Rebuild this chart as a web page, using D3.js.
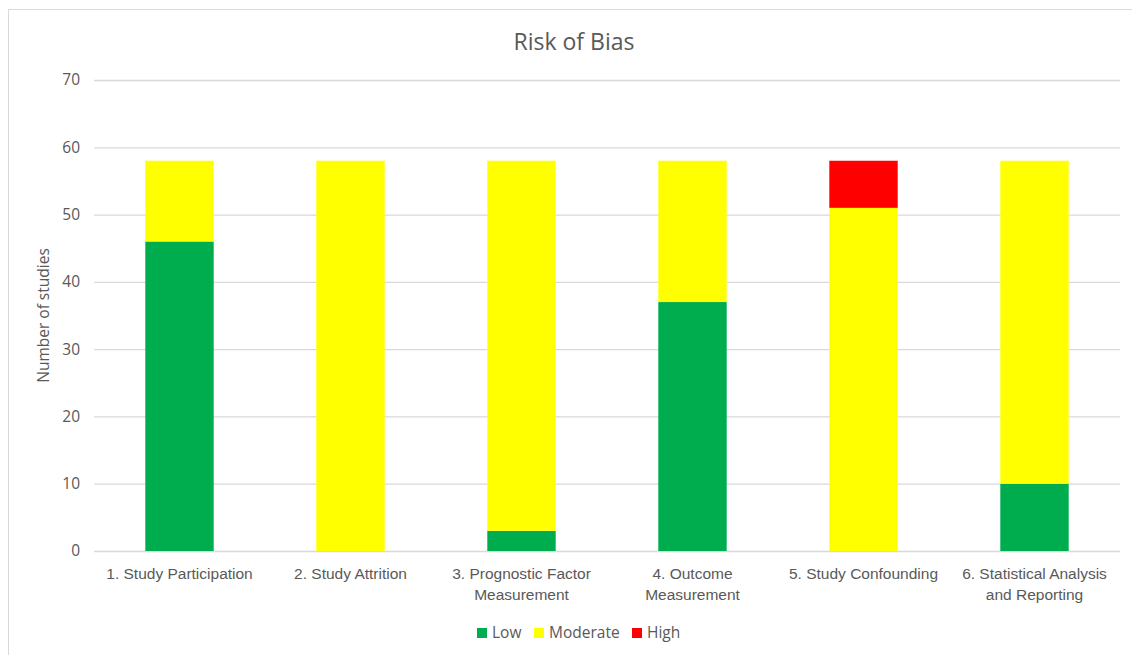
<!DOCTYPE html>
<html>
<head>
<meta charset="utf-8">
<script src="https://cdn.jsdelivr.net/npm/d3@7"></script>
<style>
  html, body { margin: 0; padding: 0; background: #fff; }
  svg { display: block; font-family: "Open Sans", "Noto Sans", sans-serif; }
</style>
</head>
<body>
<svg id="chart" width="1132" height="655"></svg>
<script>
// Risk-of-bias domains and study counts per rating
const categories = [
  ["1. Study Participation"],
  ["2. Study Attrition"],
  ["3. Prognostic Factor", "Measurement"],
  ["4. Outcome", "Measurement"],
  ["5. Study Confounding"],
  ["6. Statistical Analysis", "and Reporting"]
];
const seriesNames = ["Low", "Moderate", "High"];
const lowValues = [46, 0, 3, 37, 0, 10];
const moderateValues = [12, 58, 55, 21, 51, 48];
const highValues = [0, 0, 0, 0, 7, 0];
const yTicks = [0, 10, 20, 30, 40, 50, 60, 70];
const colors = ["#00AD4E", "#FFFF00", "#FF0000"];

const svg = d3.select("#chart");
const W = 1132, H = 655;
const margin = { left: 94, right: 12, top: 80, bottom: 104 };
const textColor = "#595959";
const fs = 15.5;

// chart frame
svg.append("rect")
  .attr("x", 8.5).attr("y", 9.5)
  .attr("width", W + 10).attr("height", H + 10)
  .attr("fill", "#fff").attr("stroke", "#d9d9d9").attr("stroke-width", 1);

const x = d3.scaleBand()
  .domain(categories.map((d, i) => i))
  .range([margin.left, W - margin.right])
  .paddingInner(0.6).paddingOuter(0.3);

const y = d3.scaleLinear()
  .domain([0, 70])
  .range([H - margin.bottom, margin.top]);

// gridlines
const yAxis = d3.axisLeft(y).tickValues(yTicks).tickSize(-(W - margin.right - margin.left)).tickPadding(14);
const gy = svg.append("g").attr("transform", `translate(${margin.left},0)`).call(yAxis);
gy.select(".domain").remove();
gy.selectAll(".tick line").attr("stroke", "#d9d9d9").attr("stroke-width", 1.3);
gy.selectAll(".tick text").attr("fill", textColor).attr("font-size", fs)
  .attr("font-family", "Open Sans, sans-serif");

// stacked bars
const rows = categories.map((c, i) => ({ i, Low: lowValues[i], Moderate: moderateValues[i], High: highValues[i] }));
const stacked = d3.stack().keys(seriesNames)(rows);

svg.append("g").selectAll("g")
  .data(stacked)
  .join("g")
  .attr("fill", (d, k) => colors[k])
  .selectAll("rect")
  .data(d => d.filter(s => s[1] > s[0]))
  .join("rect")
  .attr("x", d => x(d.data.i))
  .attr("width", x.bandwidth())
  .attr("y", d => y(d[1]))
  .attr("height", d => y(d[0]) - y(d[1]));

// category labels
const xAxis = d3.axisBottom(x).tickSize(0).tickFormat(() => "");
const gx = svg.append("g").attr("transform", `translate(0,${y(0)})`).call(xAxis);
gx.select(".domain").remove();
gx.selectAll(".tick text").remove();
gx.selectAll(".tick").each(function(i) {
  const t = d3.select(this).append("text")
    .attr("fill", textColor).attr("font-size", fs)
    .attr("text-anchor", "middle").attr("y", 28);
  categories[i].forEach((line, j) => {
    t.append("tspan").attr("x", 0).attr("dy", j === 0 ? 0 : 21).text(line);
  });
});

// title
svg.append("text")
  .attr("x", 574).attr("y", 50)
  .attr("text-anchor", "middle")
  .attr("fill", textColor).attr("font-size", 23)
  .text("Risk of Bias");

// y-axis title
svg.append("text")
  .attr("transform", `translate(49,${(y(0) + y(70)) / 2}) rotate(-90)`)
  .attr("text-anchor", "middle")
  .attr("fill", textColor).attr("font-size", fs)
  .text("Number of studies");

// legend
const legendX = [477, 534, 632];
const lg = svg.append("g").selectAll("g")
  .data(seriesNames)
  .join("g")
  .attr("transform", (d, k) => `translate(${legendX[k]},628)`);
lg.append("rect").attr("width", 10).attr("height", 10).attr("fill", (d, k) => colors[k]);
lg.append("text").attr("x", 15).attr("y", 10).attr("fill", textColor)
  .attr("font-size", fs).text(d => d);
</script>
</body>
</html>
